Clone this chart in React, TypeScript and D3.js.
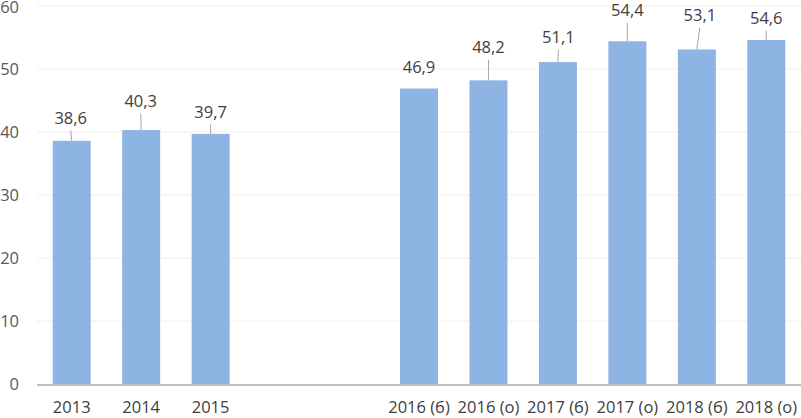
import React from "react";
import * as d3 from "d3";

const categories: string[] = ["2013", "2014", "2015", "", "", "2016 (б)", "2016 (о)", "2017 (б)", "2017 (о)", "2018 (б)", "2018 (о)"];
const values: (number | null)[] = [38.6, 40.3, 39.7, null, null, 46.9, 48.2, 51.1, 54.4, 53.1, 54.6];
const yTicks: number[] = [0, 10, 20, 30, 40, 50, 60];
// label placement (px above bar top, horizontal nudge, leader line shown)
const labelLift: number[] = [23, 29, 22, 0, 0, 21.5, 33, 25, 31, 34.5, 22];
const labelNudge: number[] = [-1, -0.5, 0, 0, 0, 0, 0, 0.5, 0, 3, 0];
const showLeader: boolean[] = [true, true, true, false, false, false, true, true, true, true, true];

const W = 801;
const H = 418;
const FONT = "'Open Sans', sans-serif";

export default function App() {
  const x = d3.scaleBand<number>().domain(d3.range(categories.length)).range([37, 801]).paddingInner(0.453).paddingOuter(0.2265);
  const y = d3.scaleLinear().domain([0, 60]).range([384, 6]);
  const fmt = (v: number) => v.toFixed(1).replace(".", ",");

  return (
    <svg width={W} height={H} style={{ position: "absolute", left: 0, top: 0, background: "#fff" }} fontFamily={FONT}>
      {yTicks.map((t) => (
        <g key={t}>
          {t > 0 && <line x1={37} x2={801} y1={y(t)} y2={y(t)} stroke="#efefef" strokeWidth={1.2} />}
          <text x={19} y={Math.max(y(t), 7)} dy="0.36em" textAnchor="end" fontSize={16.5} fill="#595959">
            {t}
          </text>
        </g>
      ))}
      {values.map((v, i) =>
        v == null ? null : (
          <rect key={i} x={x(i)!} y={y(v)} width={x.bandwidth()} height={y(0) - y(v)} fill="#8DB4E2" />
        )
      )}
      <line x1={37} x2={801} y1={385} y2={385} stroke="#bfbfbf" strokeWidth={2} />
      {values.map((v, i) => {
        if (v == null) return null;
        const cx = x(i)! + x.bandwidth() / 2;
        const lx = cx + labelNudge[i];
        const ly = y(v) - labelLift[i];
        const lineTop = ly + 12.5;
        return (
          <g key={i}>
            {showLeader[i] && <line x1={lx} y1={lineTop} x2={cx} y2={y(v)} stroke="#a6a6a6" strokeWidth={1} />}
            <text x={lx} y={ly} dy="0.36em" textAnchor="middle" fontSize={16.5} fill="#404040">
              {fmt(v)}
            </text>
          </g>
        );
      })}
      {categories.map((c, i) => (
        <text key={i} x={x(i)! + x.bandwidth() / 2} y={407.5} dy="0.36em" textAnchor="middle" fontSize={16.5} fill="#404040">
          {c}
        </text>
      ))}
    </svg>
  );
}
